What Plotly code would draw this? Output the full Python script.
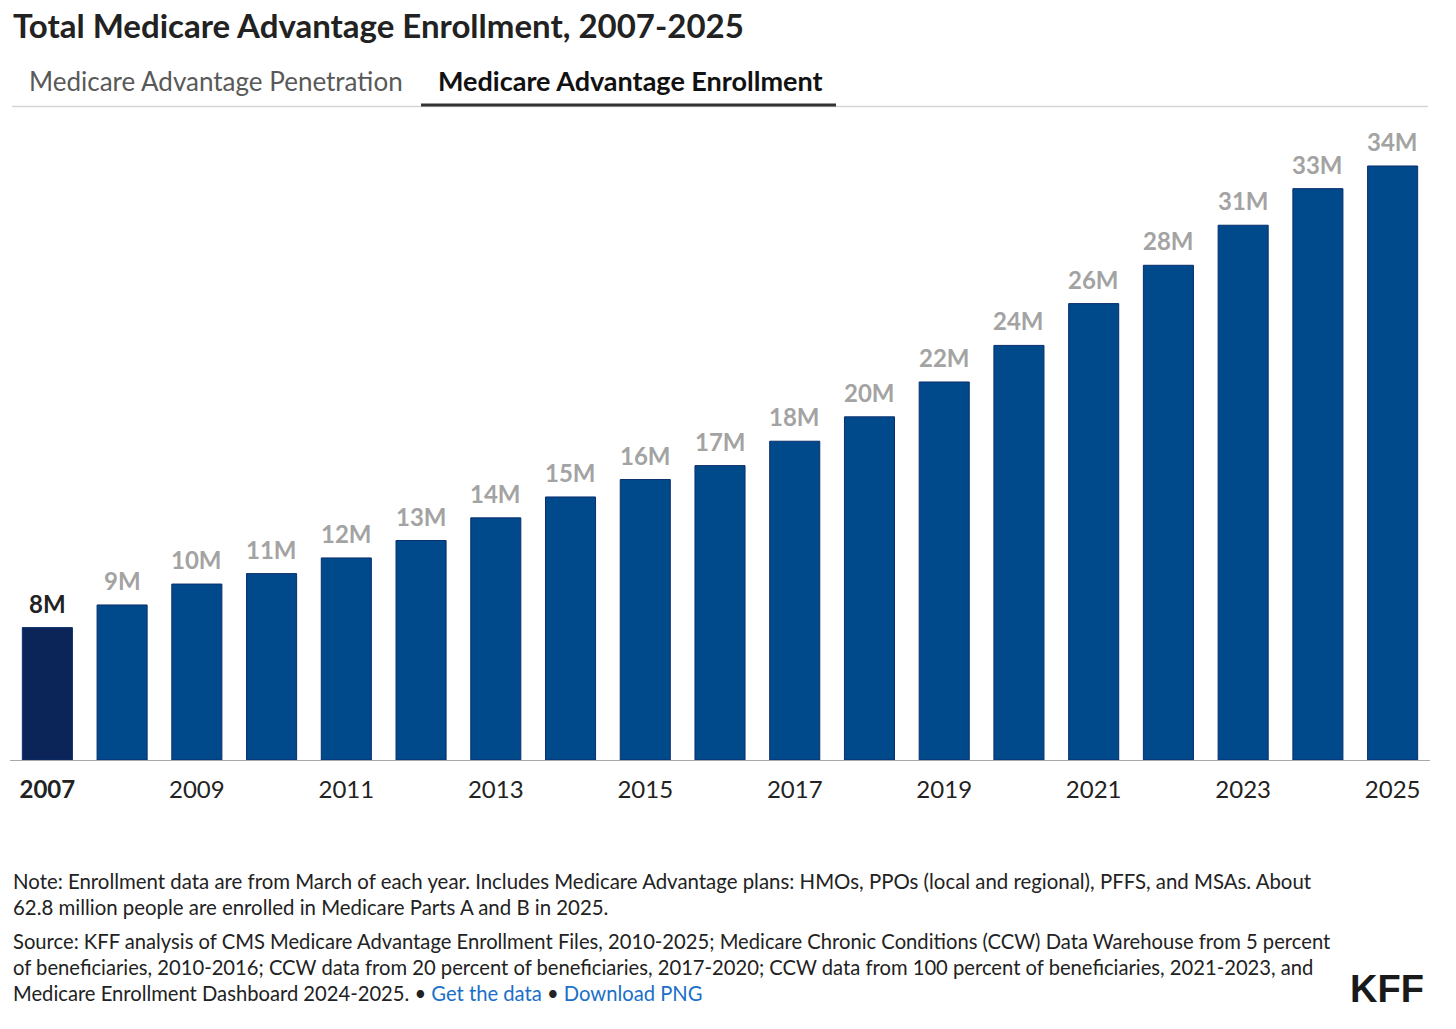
import plotly.graph_objects as go

years = [str(y) for y in range(2007, 2026)]
enrollment_m = [7.6, 8.9, 10.1, 10.7, 11.6, 12.6, 13.9, 15.1, 16.1, 16.9, 18.3, 19.7,
                21.7, 23.8, 26.2, 28.4, 30.7, 32.8, 34.1]
tick_years = ["2007", "2009", "2011", "2013", "2015", "2017", "2019", "2021", "2023", "2025"]
tick_text = ["<b>2007</b>"] + tick_years[1:]

title = "Total Medicare Advantage Enrollment, 2007-2025"
tab_inactive = "Medicare Advantage Penetration"
tab_active = "Medicare Advantage Enrollment"
note_lines = [
    "Note: Enrollment data are from March of each year. Includes Medicare Advantage plans: HMOs, PPOs (local and regional), PFFS, and MSAs. About",
    "62.8 million people are enrolled in Medicare Parts A and B in 2025.",
]
source_lines = [
    "Source: KFF analysis of CMS Medicare Advantage Enrollment Files, 2010-2025; Medicare Chronic Conditions (CCW) Data Warehouse from 5 percent",
    "of beneficiaries, 2010-2016; CCW data from 20 percent of beneficiaries, 2017-2020; CCW data from 100 percent of beneficiaries, 2021-2023, and",
    "Medicare Enrollment Dashboard 2024-2025. \u2022 <span style='color:#1a6fc9'>Get the data</span> \u2022 <span style='color:#1a6fc9'>Download PNG</span>",
]

W, H = 1456, 1029
# plot area in screen pixels: x 10..1430, y 120..760
L, R, T, B = 10, W - 1430, 120, H - 760
PW, PH = W - L - R, H - T - B

def fx(px):
    return (px - L) / PW

def fy(py):
    return (H - B - py) / PH

FONT = "Source Sans Pro, Lato, sans-serif"

bar_colors = ["#0b2559"] + ["#00498a"] * (len(years) - 1)
label_colors = ["#222222"] + ["#a3a3a3"] * (len(years) - 1)

fig = go.Figure(go.Bar(
    x=years, y=enrollment_m,
    marker=dict(color=bar_colors, line=dict(color="#0a2f6e", width=1)),
    cliponaxis=False, hoverinfo="skip",
))

# value labels above bars (category axis: annotation x is the category index)
for i, (v, c) in enumerate(zip(enrollment_m, label_colors)):
    fig.add_annotation(x=i, y=v, xref="x", yref="y", text=f"<b>{v:.0f}M</b>", showarrow=False,
                       yanchor="bottom", yshift=8,
                       font=dict(size=24, color=c, family=FONT))

fig.update_layout(
    width=W, height=H,
    margin=dict(l=L, r=R, t=T, b=B),
    paper_bgcolor="white", plot_bgcolor="white",
    bargap=0.33, showlegend=False,
    font=dict(family=FONT, color="#222222"),
    xaxis=dict(type="category", tickmode="array", tickvals=tick_years, ticktext=tick_text,
               showline=True, linecolor="#aaaaaa", linewidth=1, ticks="", ticklabelstandoff=8,
               tickfont=dict(size=24, color="#222222"), showgrid=False, range=[-0.5, 18.5]),
    yaxis=dict(range=[0, 36.74], showgrid=False, zeroline=False, showline=False,
               showticklabels=False, ticks=""),
)

ann = [
    dict(text="<b>" + title + "</b>", x=fx(12), y=fy(25), size=33, color="#222222"),
    dict(text=tab_inactive, x=fx(28), y=fy(81), size=26, color="#595959"),
    dict(text="<b>" + tab_active + "</b>", x=fx(437), y=fy(81), size=27, color="#111111"),
]
for i, line in enumerate(note_lines):
    ann.append(dict(text=line, x=fx(12), y=fy(881 + 26 * i), size=20.4, color="#222222"))
for i, line in enumerate(source_lines):
    ann.append(dict(text=line, x=fx(12), y=fy(941 + 26 * i), size=20.2, color="#222222"))

for a in ann:
    fig.add_annotation(text=a["text"], x=a["x"], y=a["y"], xref="paper", yref="paper",
                       xanchor="left", yanchor="middle", showarrow=False, borderpad=0,
                       font=dict(size=a["size"], color=a["color"], family=FONT))

fig.add_annotation(text="<b>KFF</b>", x=fx(1426), y=fy(989), xref="paper", yref="paper",
                   xanchor="right", yanchor="middle", showarrow=False,
                   font=dict(size=38, color="#1a1a1a", family="Liberation Sans, Arial, sans-serif"))

fig.add_shape(type="line", xref="paper", yref="paper", x0=fx(12), x1=fx(1428), y0=fy(106.5), y1=fy(106.5),
              line=dict(color="#d6d6d6", width=1.5))
fig.add_shape(type="line", xref="paper", yref="paper", x0=fx(421), x1=fx(836), y0=fy(105), y1=fy(105),
              line=dict(color="#333333", width=3))

fig.write_html("out.html", config={"displayModeBar": False},
               post_script="document.body.style.margin='0';document.body.style.overflow='hidden';")
